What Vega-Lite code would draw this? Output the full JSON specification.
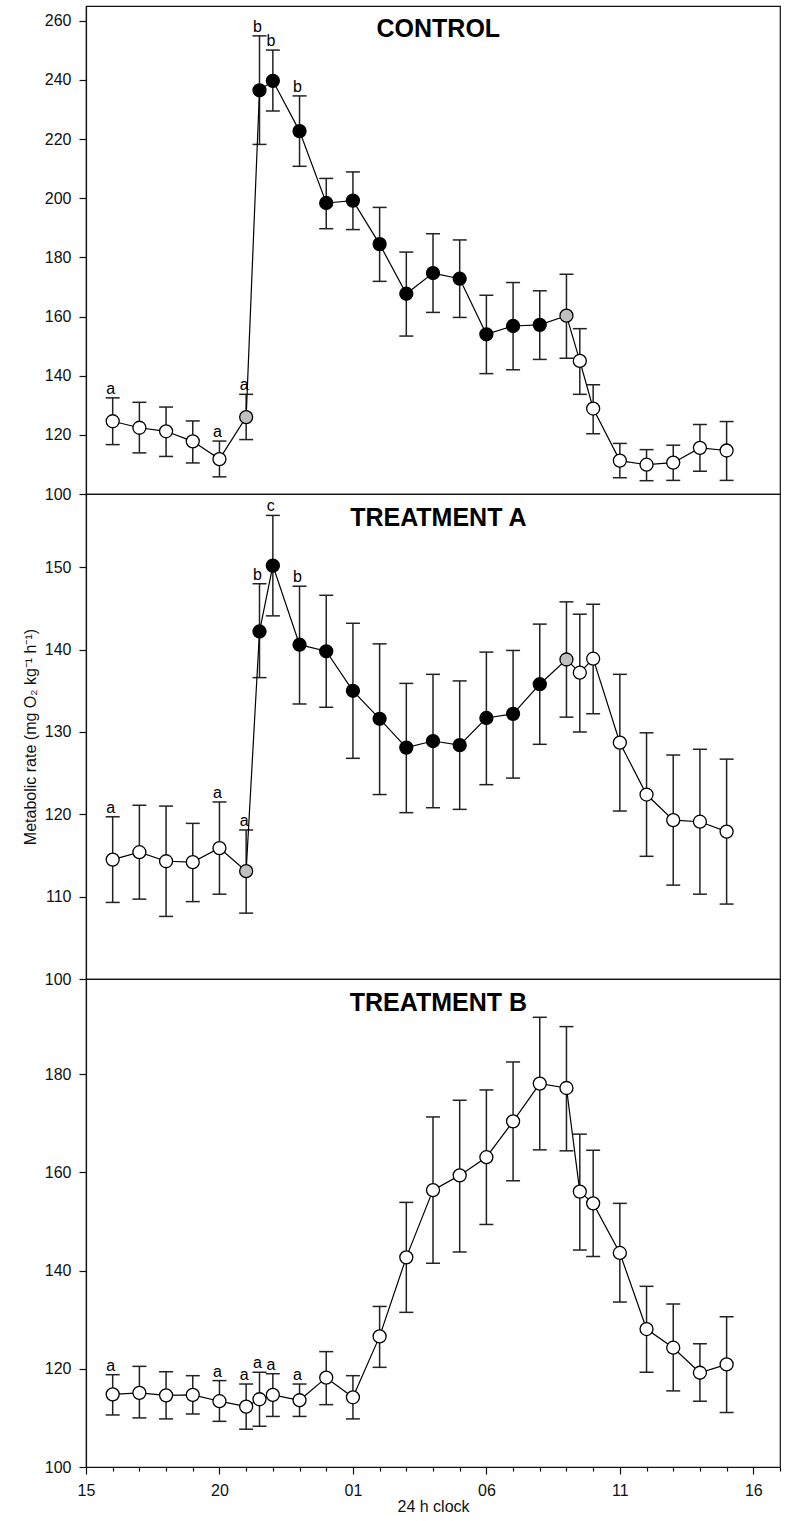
{
  "$schema": "https://vega.github.io/schema/vega-lite/v6.json",
  "padding": {"left": 21, "top": 5, "right": 4, "bottom": 4},
  "spacing": 0,
  "bounds": "flush",
  "config": {
    "font": "Liberation Sans",
    "view": {"stroke": "#111", "strokeWidth": 1.2},
    "axis": {"domainColor": "#111", "tickColor": "#111", "labelColor": "#111", "titleColor": "#111", "labelFontSize": 16, "titleFontSize": 16, "titleFontWeight": "normal", "grid": false, "tickSize": 7, "labelPadding": 8, "tickWidth": 1.2, "domainWidth": 1.2}
  },
  "datasets": {
    "d": [
      {"panel": "CONTROL", "t": 16, "mean": 124.6, "lo": 116.7, "hi": 132.5, "fill": "open", "letter": "a"},
      {"panel": "CONTROL", "t": 17, "mean": 122.4, "lo": 113.9, "hi": 131.0, "fill": "open", "letter": ""},
      {"panel": "CONTROL", "t": 18, "mean": 121.2, "lo": 112.7, "hi": 129.4, "fill": "open", "letter": ""},
      {"panel": "CONTROL", "t": 19, "mean": 117.8, "lo": 110.5, "hi": 124.7, "fill": "open", "letter": ""},
      {"panel": "CONTROL", "t": 20, "mean": 111.8, "lo": 105.8, "hi": 117.9, "fill": "open", "letter": "a"},
      {"panel": "CONTROL", "t": 21, "mean": 126.0, "lo": 118.4, "hi": 133.7, "fill": "grey", "letter": "a"},
      {"panel": "CONTROL", "t": 21.5, "mean": 236.5, "lo": 218.2, "hi": 254.9, "fill": "solid", "letter": "b"},
      {"panel": "CONTROL", "t": 22, "mean": 239.7, "lo": 229.5, "hi": 250.1, "fill": "solid", "letter": "b"},
      {"panel": "CONTROL", "t": 23, "mean": 222.7, "lo": 210.8, "hi": 234.6, "fill": "solid", "letter": "b"},
      {"panel": "CONTROL", "t": 24, "mean": 198.4, "lo": 189.7, "hi": 206.7, "fill": "solid", "letter": ""},
      {"panel": "CONTROL", "t": 25, "mean": 199.2, "lo": 189.4, "hi": 208.9, "fill": "solid", "letter": ""},
      {"panel": "CONTROL", "t": 26, "mean": 184.5, "lo": 171.9, "hi": 196.9, "fill": "solid", "letter": ""},
      {"panel": "CONTROL", "t": 27, "mean": 167.7, "lo": 153.4, "hi": 181.8, "fill": "solid", "letter": ""},
      {"panel": "CONTROL", "t": 28, "mean": 174.7, "lo": 161.4, "hi": 188.0, "fill": "solid", "letter": ""},
      {"panel": "CONTROL", "t": 29, "mean": 172.8, "lo": 159.7, "hi": 185.9, "fill": "solid", "letter": ""},
      {"panel": "CONTROL", "t": 30, "mean": 154.0, "lo": 140.7, "hi": 167.2, "fill": "solid", "letter": ""},
      {"panel": "CONTROL", "t": 31, "mean": 156.8, "lo": 142.0, "hi": 171.5, "fill": "solid", "letter": ""},
      {"panel": "CONTROL", "t": 32, "mean": 157.2, "lo": 145.5, "hi": 168.7, "fill": "solid", "letter": ""},
      {"panel": "CONTROL", "t": 33, "mean": 160.3, "lo": 145.9, "hi": 174.3, "fill": "grey", "letter": ""},
      {"panel": "CONTROL", "t": 33.5, "mean": 145.0, "lo": 133.7, "hi": 155.9, "fill": "open", "letter": ""},
      {"panel": "CONTROL", "t": 34, "mean": 128.9, "lo": 120.4, "hi": 136.9, "fill": "open", "letter": ""},
      {"panel": "CONTROL", "t": 35, "mean": 111.3, "lo": 105.5, "hi": 117.1, "fill": "open", "letter": ""},
      {"panel": "CONTROL", "t": 36, "mean": 109.9, "lo": 104.5, "hi": 115.0, "fill": "open", "letter": ""},
      {"panel": "CONTROL", "t": 37, "mean": 110.6, "lo": 104.6, "hi": 116.5, "fill": "open", "letter": ""},
      {"panel": "CONTROL", "t": 38, "mean": 115.6, "lo": 107.7, "hi": 123.5, "fill": "open", "letter": ""},
      {"panel": "CONTROL", "t": 39, "mean": 114.7, "lo": 104.6, "hi": 124.5, "fill": "open", "letter": ""},

      {"panel": "A", "t": 16, "mean": 114.5, "lo": 109.3, "hi": 119.7, "fill": "open", "letter": "a"},
      {"panel": "A", "t": 17, "mean": 115.4, "lo": 109.7, "hi": 121.1, "fill": "open", "letter": ""},
      {"panel": "A", "t": 18, "mean": 114.3, "lo": 107.6, "hi": 121.0, "fill": "open", "letter": ""},
      {"panel": "A", "t": 19, "mean": 114.2, "lo": 109.4, "hi": 118.9, "fill": "open", "letter": ""},
      {"panel": "A", "t": 20, "mean": 115.9, "lo": 110.3, "hi": 121.5, "fill": "open", "letter": "a"},
      {"panel": "A", "t": 21, "mean": 113.1, "lo": 108.0, "hi": 118.1, "fill": "grey", "letter": "a"},
      {"panel": "A", "t": 21.5, "mean": 142.2, "lo": 136.6, "hi": 148.0, "fill": "solid", "letter": "b"},
      {"panel": "A", "t": 22, "mean": 150.2, "lo": 144.1, "hi": 156.3, "fill": "solid", "letter": "c"},
      {"panel": "A", "t": 23, "mean": 140.6, "lo": 133.4, "hi": 147.7, "fill": "solid", "letter": "b"},
      {"panel": "A", "t": 24, "mean": 139.8, "lo": 133.0, "hi": 146.6, "fill": "solid", "letter": ""},
      {"panel": "A", "t": 25, "mean": 135.0, "lo": 126.8, "hi": 143.2, "fill": "solid", "letter": ""},
      {"panel": "A", "t": 26, "mean": 131.6, "lo": 122.4, "hi": 140.7, "fill": "solid", "letter": ""},
      {"panel": "A", "t": 27, "mean": 128.1, "lo": 120.2, "hi": 135.9, "fill": "solid", "letter": ""},
      {"panel": "A", "t": 28, "mean": 128.9, "lo": 120.8, "hi": 137.0, "fill": "solid", "letter": ""},
      {"panel": "A", "t": 29, "mean": 128.4, "lo": 120.6, "hi": 136.2, "fill": "solid", "letter": ""},
      {"panel": "A", "t": 30, "mean": 131.7, "lo": 123.6, "hi": 139.7, "fill": "solid", "letter": ""},
      {"panel": "A", "t": 31, "mean": 132.2, "lo": 124.4, "hi": 139.9, "fill": "solid", "letter": ""},
      {"panel": "A", "t": 32, "mean": 135.8, "lo": 128.5, "hi": 143.1, "fill": "solid", "letter": ""},
      {"panel": "A", "t": 33, "mean": 138.8, "lo": 131.8, "hi": 145.8, "fill": "grey", "letter": ""},
      {"panel": "A", "t": 33.5, "mean": 137.2, "lo": 130.0, "hi": 144.3, "fill": "open", "letter": ""},
      {"panel": "A", "t": 34, "mean": 138.9, "lo": 132.2, "hi": 145.5, "fill": "open", "letter": ""},
      {"panel": "A", "t": 35, "mean": 128.7, "lo": 120.4, "hi": 137.0, "fill": "open", "letter": ""},
      {"panel": "A", "t": 36, "mean": 122.4, "lo": 114.9, "hi": 129.9, "fill": "open", "letter": ""},
      {"panel": "A", "t": 37, "mean": 119.3, "lo": 111.4, "hi": 127.2, "fill": "open", "letter": ""},
      {"panel": "A", "t": 38, "mean": 119.1, "lo": 110.3, "hi": 127.9, "fill": "open", "letter": ""},
      {"panel": "A", "t": 39, "mean": 117.9, "lo": 109.1, "hi": 126.7, "fill": "open", "letter": ""},

      {"panel": "B", "t": 16, "mean": 114.8, "lo": 110.6, "hi": 118.8, "fill": "open", "letter": "a"},
      {"panel": "B", "t": 17, "mean": 115.1, "lo": 110.0, "hi": 120.5, "fill": "open", "letter": ""},
      {"panel": "B", "t": 18, "mean": 114.6, "lo": 109.8, "hi": 119.4, "fill": "open", "letter": ""},
      {"panel": "B", "t": 19, "mean": 114.7, "lo": 110.8, "hi": 118.6, "fill": "open", "letter": ""},
      {"panel": "B", "t": 20, "mean": 113.4, "lo": 109.3, "hi": 117.6, "fill": "open", "letter": "a"},
      {"panel": "B", "t": 21, "mean": 112.3, "lo": 107.7, "hi": 116.9, "fill": "open", "letter": "a"},
      {"panel": "B", "t": 21.5, "mean": 113.8, "lo": 108.3, "hi": 119.3, "fill": "open", "letter": "a"},
      {"panel": "B", "t": 22, "mean": 114.7, "lo": 110.3, "hi": 119.0, "fill": "open", "letter": "a"},
      {"panel": "B", "t": 23, "mean": 113.6, "lo": 110.3, "hi": 116.9, "fill": "open", "letter": "a"},
      {"panel": "B", "t": 24, "mean": 118.2, "lo": 112.7, "hi": 123.5, "fill": "open", "letter": ""},
      {"panel": "B", "t": 25, "mean": 114.2, "lo": 109.8, "hi": 118.6, "fill": "open", "letter": ""},
      {"panel": "B", "t": 26, "mean": 126.6, "lo": 120.3, "hi": 132.7, "fill": "open", "letter": ""},
      {"panel": "B", "t": 27, "mean": 142.7, "lo": 131.5, "hi": 153.9, "fill": "open", "letter": ""},
      {"panel": "B", "t": 28, "mean": 156.4, "lo": 141.5, "hi": 171.3, "fill": "open", "letter": ""},
      {"panel": "B", "t": 29, "mean": 159.4, "lo": 143.8, "hi": 174.7, "fill": "open", "letter": ""},
      {"panel": "B", "t": 30, "mean": 163.1, "lo": 149.4, "hi": 176.8, "fill": "open", "letter": ""},
      {"panel": "B", "t": 31, "mean": 170.4, "lo": 158.3, "hi": 182.5, "fill": "open", "letter": ""},
      {"panel": "B", "t": 32, "mean": 178.1, "lo": 164.6, "hi": 191.6, "fill": "open", "letter": ""},
      {"panel": "B", "t": 33, "mean": 177.2, "lo": 164.4, "hi": 189.7, "fill": "open", "letter": ""},
      {"panel": "B", "t": 33.5, "mean": 156.1, "lo": 144.2, "hi": 167.8, "fill": "open", "letter": ""},
      {"panel": "B", "t": 34, "mean": 153.7, "lo": 142.9, "hi": 164.5, "fill": "open", "letter": ""},
      {"panel": "B", "t": 35, "mean": 143.6, "lo": 133.6, "hi": 153.7, "fill": "open", "letter": ""},
      {"panel": "B", "t": 36, "mean": 128.1, "lo": 119.3, "hi": 136.8, "fill": "open", "letter": ""},
      {"panel": "B", "t": 37, "mean": 124.3, "lo": 115.5, "hi": 133.2, "fill": "open", "letter": ""},
      {"panel": "B", "t": 38, "mean": 119.2, "lo": 113.4, "hi": 125.1, "fill": "open", "letter": ""},
      {"panel": "B", "t": 39, "mean": 120.9, "lo": 111.1, "hi": 130.6, "fill": "open", "letter": ""}
    ],
    "titles": [
      {"panel": "CONTROL", "name": "CONTROL"},
      {"panel": "A", "name": "TREATMENT A"},
      {"panel": "B", "name": "TREATMENT B"}
    ]
  },
  "vconcat": [
    {
      "width": 694, "height": 488,
      "layer": [
        {"data": {"name": "d"}, "transform": [{"filter": "datum.panel === 'CONTROL'"}],
         "mark": {"type": "rule", "color": "#222", "strokeWidth": 1.5},
         "encoding": {"x": {"field": "t", "type": "quantitative", "scale": {"domain": [15, 41], "nice": false, "zero": false}, "axis": null},
                      "y": {"field": "lo", "type": "quantitative", "scale": {"domain": [100, 265], "nice": false, "zero": false}, "axis": {"values": [100, 120, 140, 160, 180, 200, 220, 240, 260], "title": null}}, "y2": {"field": "hi"}}},
        {"data": {"name": "d"}, "transform": [{"filter": "datum.panel === 'CONTROL'"}],
         "mark": {"type": "tick", "orient": "horizontal", "size": 14, "thickness": 1.5, "color": "#222", "opacity": 1},
         "encoding": {"x": {"field": "t", "type": "quantitative", "axis": null}, "y": {"field": "lo", "type": "quantitative"}}},
        {"data": {"name": "d"}, "transform": [{"filter": "datum.panel === 'CONTROL'"}],
         "mark": {"type": "tick", "orient": "horizontal", "size": 14, "thickness": 1.5, "color": "#222", "opacity": 1},
         "encoding": {"x": {"field": "t", "type": "quantitative", "axis": null}, "y": {"field": "hi", "type": "quantitative"}}},
        {"data": {"name": "d"}, "transform": [{"filter": "datum.panel === 'CONTROL'"}],
         "mark": {"type": "line", "color": "#000", "strokeWidth": 1.2},
         "encoding": {"x": {"field": "t", "type": "quantitative", "axis": null}, "y": {"field": "mean", "type": "quantitative"}}},
        {"data": {"name": "d"}, "transform": [{"filter": "datum.panel === 'CONTROL'"}],
         "mark": {"type": "circle", "size": 169, "stroke": "#000", "strokeWidth": 1.3, "opacity": 1},
         "encoding": {"x": {"field": "t", "type": "quantitative", "axis": null}, "y": {"field": "mean", "type": "quantitative"},
                      "fill": {"field": "fill", "type": "nominal", "scale": {"domain": ["open", "grey", "solid"], "range": ["#ffffff", "#c0c0c0", "#000000"]}, "legend": null}}},
        {"data": {"name": "d"}, "transform": [{"filter": "datum.panel === 'CONTROL' && datum.letter !== ''"}],
         "mark": {"type": "text", "fontSize": 16, "baseline": "alphabetic", "dy": -4, "dx": -2, "color": "#000"},
         "encoding": {"x": {"field": "t", "type": "quantitative", "axis": null}, "y": {"field": "hi", "type": "quantitative"}, "text": {"field": "letter"}}},
        {"data": {"name": "titles"}, "transform": [{"filter": "datum.panel === 'CONTROL'"}],
         "mark": {"type": "text", "fontSize": 25, "fontWeight": "bold", "baseline": "alphabetic", "align": "center", "color": "#000"},
         "encoding": {"x": {"datum": 28.2, "type": "quantitative", "axis": null}, "y": {"datum": 254.6, "type": "quantitative"}, "text": {"field": "name"}}}
      ]
    },
    {
      "width": 694, "height": 485,
      "layer": [
        {"data": {"name": "d"}, "transform": [{"filter": "datum.panel === 'A'"}],
         "mark": {"type": "rule", "color": "#222", "strokeWidth": 1.5},
         "encoding": {"x": {"field": "t", "type": "quantitative", "scale": {"domain": [15, 41], "nice": false, "zero": false}, "axis": null},
                      "y": {"field": "lo", "type": "quantitative", "scale": {"domain": [100, 158.9], "nice": false, "zero": false}, "axis": {"values": [100, 110, 120, 130, 140, 150], "title": "Metabolic rate (mg O₂ kg⁻¹ h⁻¹)", "titlePadding": 6}}, "y2": {"field": "hi"}}},
        {"data": {"name": "d"}, "transform": [{"filter": "datum.panel === 'A'"}],
         "mark": {"type": "tick", "orient": "horizontal", "size": 14, "thickness": 1.5, "color": "#222", "opacity": 1},
         "encoding": {"x": {"field": "t", "type": "quantitative", "axis": null}, "y": {"field": "lo", "type": "quantitative"}}},
        {"data": {"name": "d"}, "transform": [{"filter": "datum.panel === 'A'"}],
         "mark": {"type": "tick", "orient": "horizontal", "size": 14, "thickness": 1.5, "color": "#222", "opacity": 1},
         "encoding": {"x": {"field": "t", "type": "quantitative", "axis": null}, "y": {"field": "hi", "type": "quantitative"}}},
        {"data": {"name": "d"}, "transform": [{"filter": "datum.panel === 'A'"}],
         "mark": {"type": "line", "color": "#000", "strokeWidth": 1.2},
         "encoding": {"x": {"field": "t", "type": "quantitative", "axis": null}, "y": {"field": "mean", "type": "quantitative"}}},
        {"data": {"name": "d"}, "transform": [{"filter": "datum.panel === 'A'"}],
         "mark": {"type": "circle", "size": 169, "stroke": "#000", "strokeWidth": 1.3, "opacity": 1},
         "encoding": {"x": {"field": "t", "type": "quantitative", "axis": null}, "y": {"field": "mean", "type": "quantitative"},
                      "fill": {"field": "fill", "type": "nominal", "scale": {"domain": ["open", "grey", "solid"], "range": ["#ffffff", "#c0c0c0", "#000000"]}, "legend": null}}},
        {"data": {"name": "d"}, "transform": [{"filter": "datum.panel === 'A' && datum.letter !== ''"}],
         "mark": {"type": "text", "fontSize": 16, "baseline": "alphabetic", "dy": -4, "dx": -2, "color": "#000"},
         "encoding": {"x": {"field": "t", "type": "quantitative", "axis": null}, "y": {"field": "hi", "type": "quantitative"}, "text": {"field": "letter"}}},
        {"data": {"name": "titles"}, "transform": [{"filter": "datum.panel === 'A'"}],
         "mark": {"type": "text", "fontSize": 25, "fontWeight": "bold", "baseline": "alphabetic", "align": "center", "color": "#000"},
         "encoding": {"x": {"datum": 28.2, "type": "quantitative", "axis": null}, "y": {"datum": 155.0, "type": "quantitative"}, "text": {"field": "name"}}}
      ]
    },
    {
      "width": 694, "height": 488,
      "layer": [
        {"data": {"name": "d"}, "transform": [{"filter": "datum.panel === 'B'"}],
         "mark": {"type": "rule", "color": "#222", "strokeWidth": 1.5},
         "encoding": {"x": {"field": "t", "type": "quantitative", "scale": {"domain": [15, 41], "nice": false, "zero": false},
                        "axis": {"values": [15, 16, 17, 18, 19, 20, 21, 22, 23, 24, 25, 26, 27, 28, 29, 30, 31, 32, 33, 34, 35, 36, 37, 38, 39, 40, 41], "labelExpr": "(datum.value - 15) % 5 === 0 ? ((datum.value % 24) < 10 ? '0' + (datum.value % 24) : '' + (datum.value % 24)) : ''", "labelFlush": false, "labelOverlap": false, "tickSize": {"condition": {"test": "(datum.value - 15) % 5 === 0", "value": 7}, "value": 4}, "labelPadding": 8, "title": "24 h clock", "titleFontSize": 16, "titlePadding": 0}},
                      "y": {"field": "lo", "type": "quantitative", "scale": {"domain": [100, 199.4], "nice": false, "zero": false}, "axis": {"values": [100, 120, 140, 160, 180], "title": null}}, "y2": {"field": "hi"}}},
        {"data": {"name": "d"}, "transform": [{"filter": "datum.panel === 'B'"}],
         "mark": {"type": "tick", "orient": "horizontal", "size": 14, "thickness": 1.5, "color": "#222", "opacity": 1},
         "encoding": {"x": {"field": "t", "type": "quantitative",
                        "axis": {"values": [15, 16, 17, 18, 19, 20, 21, 22, 23, 24, 25, 26, 27, 28, 29, 30, 31, 32, 33, 34, 35, 36, 37, 38, 39, 40, 41], "labelExpr": "(datum.value - 15) % 5 === 0 ? ((datum.value % 24) < 10 ? '0' + (datum.value % 24) : '' + (datum.value % 24)) : ''", "labelFlush": false, "labelOverlap": false, "tickSize": {"condition": {"test": "(datum.value - 15) % 5 === 0", "value": 7}, "value": 4}, "labelPadding": 8, "title": "24 h clock", "titleFontSize": 16, "titlePadding": 0}},
                      "y": {"field": "lo", "type": "quantitative"}}},
        {"data": {"name": "d"}, "transform": [{"filter": "datum.panel === 'B'"}],
         "mark": {"type": "tick", "orient": "horizontal", "size": 14, "thickness": 1.5, "color": "#222", "opacity": 1},
         "encoding": {"x": {"field": "t", "type": "quantitative",
                        "axis": {"values": [15, 16, 17, 18, 19, 20, 21, 22, 23, 24, 25, 26, 27, 28, 29, 30, 31, 32, 33, 34, 35, 36, 37, 38, 39, 40, 41], "labelExpr": "(datum.value - 15) % 5 === 0 ? ((datum.value % 24) < 10 ? '0' + (datum.value % 24) : '' + (datum.value % 24)) : ''", "labelFlush": false, "labelOverlap": false, "tickSize": {"condition": {"test": "(datum.value - 15) % 5 === 0", "value": 7}, "value": 4}, "labelPadding": 8, "title": "24 h clock", "titleFontSize": 16, "titlePadding": 0}},
                      "y": {"field": "hi", "type": "quantitative"}}},
        {"data": {"name": "d"}, "transform": [{"filter": "datum.panel === 'B'"}],
         "mark": {"type": "line", "color": "#000", "strokeWidth": 1.2},
         "encoding": {"x": {"field": "t", "type": "quantitative",
                        "axis": {"values": [15, 16, 17, 18, 19, 20, 21, 22, 23, 24, 25, 26, 27, 28, 29, 30, 31, 32, 33, 34, 35, 36, 37, 38, 39, 40, 41], "labelExpr": "(datum.value - 15) % 5 === 0 ? ((datum.value % 24) < 10 ? '0' + (datum.value % 24) : '' + (datum.value % 24)) : ''", "labelFlush": false, "labelOverlap": false, "tickSize": {"condition": {"test": "(datum.value - 15) % 5 === 0", "value": 7}, "value": 4}, "labelPadding": 8, "title": "24 h clock", "titleFontSize": 16, "titlePadding": 0}},
                      "y": {"field": "mean", "type": "quantitative"}}},
        {"data": {"name": "d"}, "transform": [{"filter": "datum.panel === 'B'"}],
         "mark": {"type": "circle", "size": 169, "stroke": "#000", "strokeWidth": 1.3, "opacity": 1},
         "encoding": {"x": {"field": "t", "type": "quantitative",
                        "axis": {"values": [15, 16, 17, 18, 19, 20, 21, 22, 23, 24, 25, 26, 27, 28, 29, 30, 31, 32, 33, 34, 35, 36, 37, 38, 39, 40, 41], "labelExpr": "(datum.value - 15) % 5 === 0 ? ((datum.value % 24) < 10 ? '0' + (datum.value % 24) : '' + (datum.value % 24)) : ''", "labelFlush": false, "labelOverlap": false, "tickSize": {"condition": {"test": "(datum.value - 15) % 5 === 0", "value": 7}, "value": 4}, "labelPadding": 8, "title": "24 h clock", "titleFontSize": 16, "titlePadding": 0}},
                      "y": {"field": "mean", "type": "quantitative"},
                      "fill": {"field": "fill", "type": "nominal", "scale": {"domain": ["open", "grey", "solid"], "range": ["#ffffff", "#c0c0c0", "#000000"]}, "legend": null}}},
        {"data": {"name": "d"}, "transform": [{"filter": "datum.panel === 'B' && datum.letter !== ''"}],
         "mark": {"type": "text", "fontSize": 16, "baseline": "alphabetic", "dy": -4, "dx": -2, "color": "#000"},
         "encoding": {"x": {"field": "t", "type": "quantitative",
                        "axis": {"values": [15, 16, 17, 18, 19, 20, 21, 22, 23, 24, 25, 26, 27, 28, 29, 30, 31, 32, 33, 34, 35, 36, 37, 38, 39, 40, 41], "labelExpr": "(datum.value - 15) % 5 === 0 ? ((datum.value % 24) < 10 ? '0' + (datum.value % 24) : '' + (datum.value % 24)) : ''", "labelFlush": false, "labelOverlap": false, "tickSize": {"condition": {"test": "(datum.value - 15) % 5 === 0", "value": 7}, "value": 4}, "labelPadding": 8, "title": "24 h clock", "titleFontSize": 16, "titlePadding": 0}},
                      "y": {"field": "hi", "type": "quantitative"}, "text": {"field": "letter"}}},
        {"data": {"name": "titles"}, "transform": [{"filter": "datum.panel === 'B'"}],
         "mark": {"type": "text", "fontSize": 25, "fontWeight": "bold", "baseline": "alphabetic", "align": "center", "color": "#000"},
         "encoding": {"x": {"datum": 28.2, "type": "quantitative",
                        "axis": {"values": [15, 16, 17, 18, 19, 20, 21, 22, 23, 24, 25, 26, 27, 28, 29, 30, 31, 32, 33, 34, 35, 36, 37, 38, 39, 40, 41], "labelExpr": "(datum.value - 15) % 5 === 0 ? ((datum.value % 24) < 10 ? '0' + (datum.value % 24) : '' + (datum.value % 24)) : ''", "labelFlush": false, "labelOverlap": false, "tickSize": {"condition": {"test": "(datum.value - 15) % 5 === 0", "value": 7}, "value": 4}, "labelPadding": 8, "title": "24 h clock", "titleFontSize": 16, "titlePadding": 0}},
                      "y": {"datum": 192.9, "type": "quantitative"}, "text": {"field": "name"}}}
      ]
    }
  ]
}
